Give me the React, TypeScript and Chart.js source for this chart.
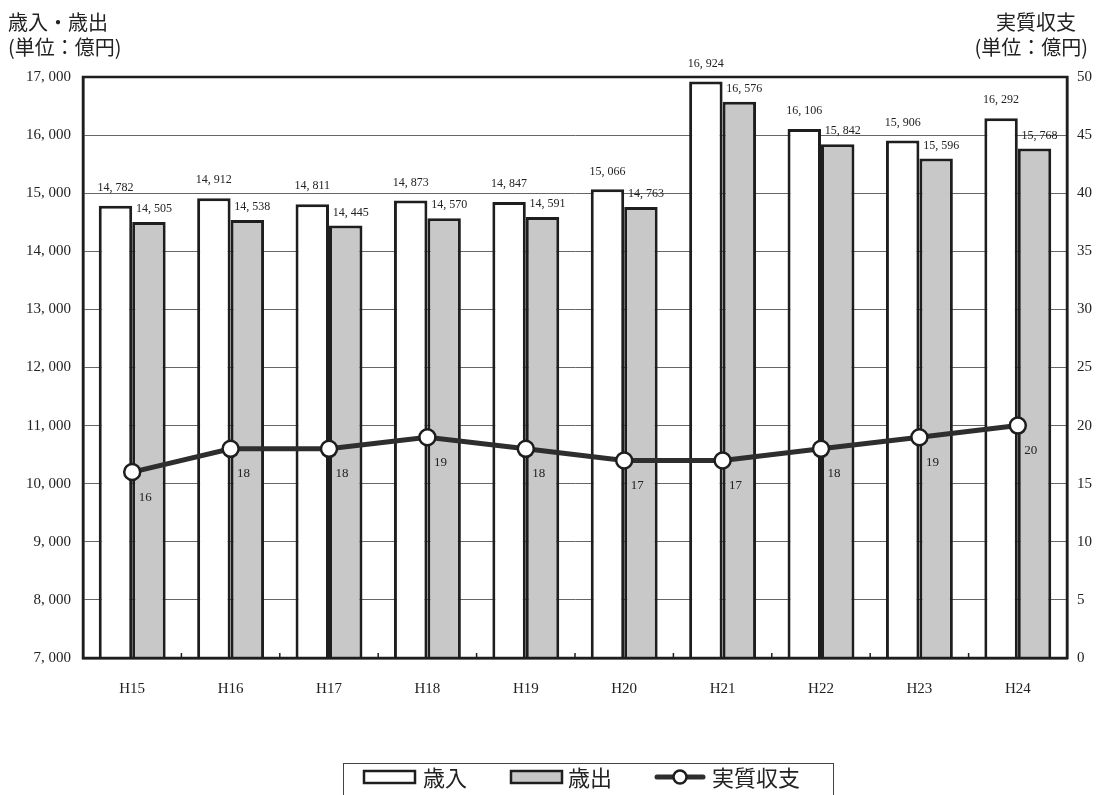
import React, { useEffect, useRef } from "react";
import { Chart, registerables } from "chart.js";

Chart.register(...registerables);

const categories = ["H15", "H16", "H17", "H18", "H19", "H20", "H21", "H22", "H23", "H24"];
const revenue = [14782, 14912, 14811, 14873, 14847, 15066, 16924, 16106, 15906, 16292];
const expenditure = [14505, 14538, 14445, 14570, 14591, 14763, 16576, 15842, 15596, 15768];
const balance = [16, 18, 18, 19, 18, 17, 17, 18, 19, 20];
const seriesNames = ["歳入", "歳出", "実質収支"];
const leftTitle = ["歳入・歳出", "(単位：億円)"];
const rightTitle = ["実質収支", "(単位：億円)"];

const SERIF = "'Liberation Serif', 'DejaVu Serif', serif";
const CJK = "'Noto Sans CJK JP', sans-serif";
const GREY = "#c8c8c8";
const DARK = "#1e1e1e";
const LINE = "#2e2e2e";

const fmt = (v: number) => {
  const s = v.toLocaleString("en-US");
  return s.replace(",", ", ");
};

const decorPlugin = {
  id: "decor",
  afterDatasetsDraw(chart: any) {
    const ctx = chart.ctx;
    const area = chart.chartArea;
    ctx.save();
    ctx.strokeStyle = DARK;
    ctx.lineWidth = 2.5;
    ctx.strokeRect(area.left, area.top, area.right - area.left, area.bottom - area.top);

    // small ticks at category boundaries on the bottom axis
    const xs = chart.scales.x;
    ctx.lineWidth = 1.5;
    for (let i = 1; i < categories.length; i++) {
      const bx = (xs.getPixelForValue(i - 1) + xs.getPixelForValue(i)) / 2;
      ctx.beginPath();
      ctx.moveTo(bx, area.bottom);
      ctx.lineTo(bx, area.bottom - 5);
      ctx.stroke();
    }

    ctx.fillStyle = "#222";
    ctx.font = `12px ${SERIF}`;
    const m0 = chart.getDatasetMeta(0);
    const m1 = chart.getDatasetMeta(1);
    m0.data.forEach((el: any, i: number) => {
      ctx.textAlign = "center";
      ctx.textBaseline = "bottom";
      ctx.fillText(fmt(revenue[i]), el.x, el.y - 12);
    });
    m1.data.forEach((el: any, i: number) => {
      ctx.textAlign = "center";
      ctx.textBaseline = "middle";
      ctx.fillText(fmt(expenditure[i]), el.x + 5, el.y - 13);
    });
    const m2 = chart.getDatasetMeta(2);
    ctx.font = `13px ${SERIF}`;
    m2.data.forEach((el: any, i: number) => {
      ctx.textAlign = "center";
      ctx.textBaseline = "middle";
      ctx.fillText(String(balance[i]), el.x + 13, el.y + 25);
    });
    ctx.restore();
  },
  afterDraw(chart: any) {
    const ctx = chart.ctx;
    ctx.save();
    ctx.fillStyle = "#222";
    ctx.font = `20px ${CJK}`;
    ctx.textBaseline = "middle";
    ctx.textAlign = "left";
    ctx.fillText(leftTitle[0], 8, 22);
    ctx.fillText(leftTitle[1], 8, 47);
    ctx.textAlign = "right";
    ctx.fillText(rightTitle[0], 1076, 22);
    ctx.fillText(rightTitle[1], 1088, 47);

    ctx.strokeStyle = "#444";
    ctx.lineWidth = 1;
    ctx.strokeRect(343.5, 763.5, 490, 40);
    ctx.lineWidth = 2.5;
    ctx.strokeStyle = DARK;
    ctx.fillStyle = "#fff";
    ctx.fillRect(364, 771, 51, 12);
    ctx.strokeRect(364, 771, 51, 12);
    ctx.fillStyle = GREY;
    ctx.fillRect(511, 771, 51, 12);
    ctx.strokeRect(511, 771, 51, 12);
    ctx.strokeStyle = LINE;
    ctx.lineWidth = 5;
    ctx.lineCap = "round";
    ctx.beginPath();
    ctx.moveTo(657, 777);
    ctx.lineTo(703, 777);
    ctx.stroke();
    ctx.beginPath();
    ctx.arc(680, 777, 6.5, 0, Math.PI * 2);
    ctx.fillStyle = "#fff";
    ctx.fill();
    ctx.lineWidth = 2.5;
    ctx.strokeStyle = DARK;
    ctx.stroke();
    ctx.fillStyle = "#222";
    ctx.font = `22px ${CJK}`;
    ctx.textAlign = "left";
    ctx.textBaseline = "middle";
    ctx.fillText(seriesNames[0], 423, 778);
    ctx.fillText(seriesNames[1], 568, 778);
    ctx.fillText(seriesNames[2], 712, 778);
    ctx.restore();
  },
};

export default function App() {
  const ref = useRef<HTMLCanvasElement>(null);
  useEffect(() => {
    if (!ref.current) return;
    const chart = new Chart(ref.current, {
      type: "bar",
      data: {
        labels: categories,
        datasets: [
          {
            type: "bar",
            label: seriesNames[0],
            data: revenue,
            backgroundColor: "#ffffff",
            borderColor: DARK,
            borderWidth: 3,
            yAxisID: "y",
            order: 2,
            categoryPercentage: 0.68,
            barPercentage: 1,
          },
          {
            type: "bar",
            label: seriesNames[1],
            data: expenditure,
            backgroundColor: GREY,
            borderColor: DARK,
            borderWidth: 3,
            yAxisID: "y",
            order: 2,
            categoryPercentage: 0.68,
            barPercentage: 1,
          },
          {
            type: "line",
            label: seriesNames[2],
            data: balance,
            borderColor: LINE,
            borderWidth: 5,
            pointRadius: 8,
            pointBackgroundColor: "#fff",
            pointBorderColor: DARK,
            pointBorderWidth: 2.5,
            yAxisID: "y1",
            order: 0,
          } as any,
        ],
      },
      options: {
        animation: false,
        responsive: false,
        maintainAspectRatio: false,
        layout: { padding: { top: 77, left: 0, right: 0, bottom: 0 } },
        plugins: { legend: { display: false }, tooltip: { enabled: false } },
        scales: {
          x: {
            grid: { display: false },
            border: { display: true, color: DARK, width: 2.5 },
            ticks: { color: "#222", font: { family: SERIF, size: 15 }, padding: 14 },
            afterFit: (s: any) => { s.height = 137; },
          },
          y: {
            position: "left",
            min: 7000,
            max: 17000,
            ticks: {
              stepSize: 1000,
              color: "#222",
              font: { family: SERIF, size: 15 },
              padding: 12,
              callback: (v: any) => fmt(Number(v)),
            },
            grid: { color: "#666", lineWidth: 1, drawTicks: false },
            border: { display: true, color: DARK, width: 2.5 },
            afterFit: (s: any) => { s.width = 83; },
          },
          y1: {
            position: "right",
            min: 0,
            max: 50,
            ticks: { stepSize: 5, color: "#222", font: { family: SERIF, size: 15 }, padding: 10 },
            grid: { display: false, drawTicks: false },
            border: { display: true, color: DARK, width: 2.5 },
            afterFit: (s: any) => { s.width = 32; },
          },
        },
      },
      plugins: [decorPlugin],
    });
    return () => chart.destroy();
  }, []);
  return (
    <div style={{ position: "fixed", left: 0, top: 0, width: 1099, height: 795, background: "#fff" }}>
      <canvas ref={ref} width={1099} height={795} style={{ width: 1099, height: 795 }} />
    </div>
  );
}
